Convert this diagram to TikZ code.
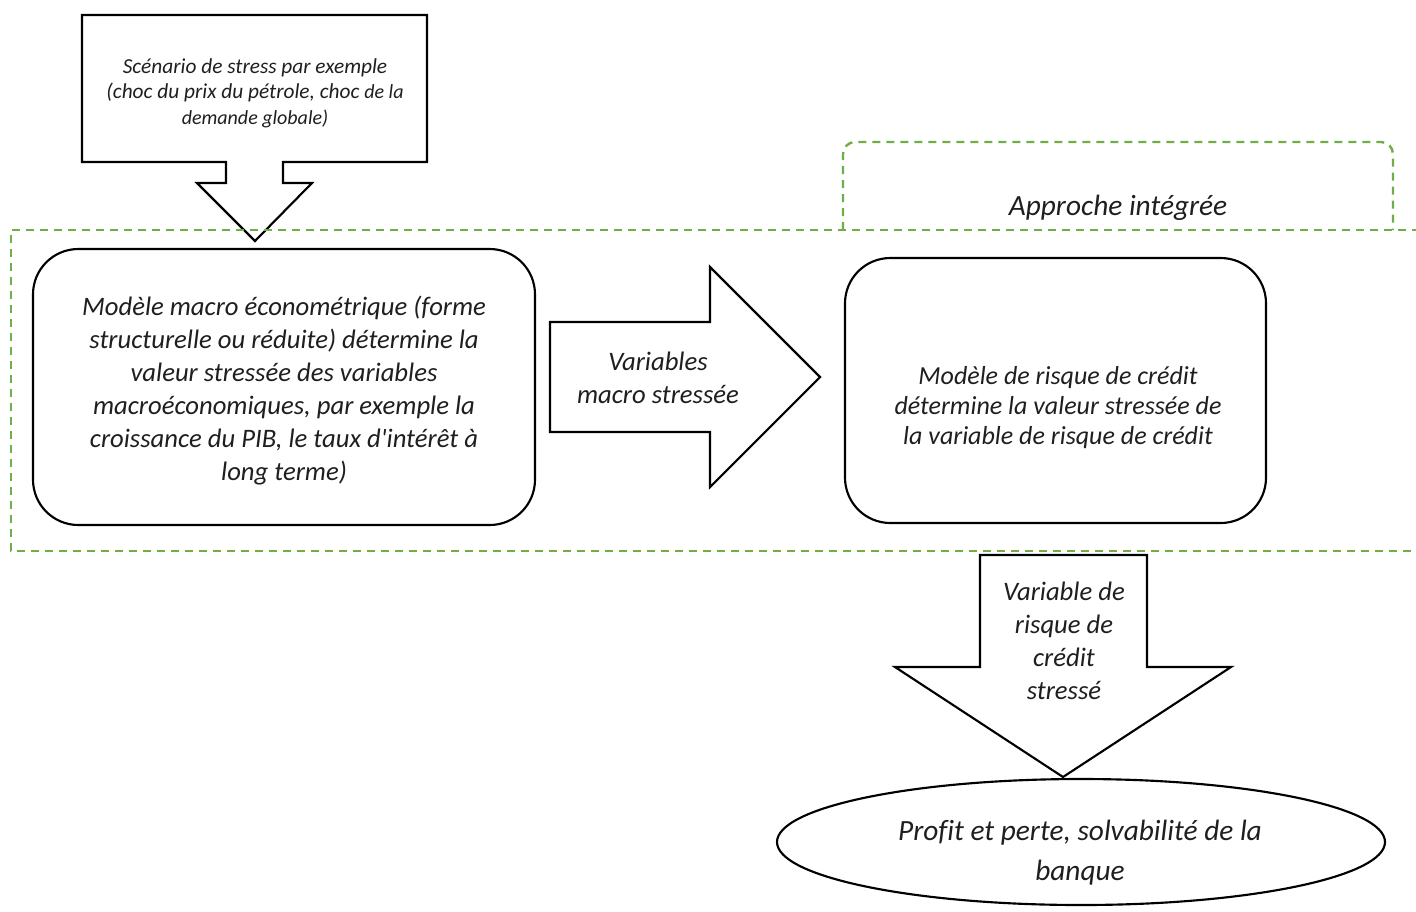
\documentclass[tikz,border=0pt]{standalone}
\usepackage{fontspec}
\setmainfont{Carlito}
\usetikzlibrary{shapes.geometric}
\definecolor{dgreen}{HTML}{70AD47}
\tikzset{
 blk/.style={draw=black, line width=1.6pt, fill=white, line join=miter},
 grn/.style={draw=dgreen, line width=1.8pt, dash pattern=on 6pt off 4.5pt},
 txt/.style={align=center, font=\itshape\fontsize{20}{24.75}\selectfont, text=black!88, inner sep=0pt},
 rbox/.style={blk, rounded corners=34pt},
}
\begin{document}
\begin{tikzpicture}[x=0.75pt,y=-0.75pt]
\useasboundingbox (0,0) rectangle (1416,911);
% scenario callout
\draw[blk] (82,15) -- (427,15) -- (427,162) -- (283,162) -- (283,183) -- (312,183) -- (255,241) -- (197,183) -- (226,183) -- (226,162) -- (82,162) -- cycle;
\node[txt, font=\itshape\fontsize{16}{19}\selectfont] (scen) at (255,93) {Scénario de stress par exemple\\(choc du prix du pétrole, choc {\fontsize{15}{19}\selectfont de la}\\{\fontsize{15}{19}\selectfont demande globale)}};
% green dashed frames
\draw[grn, rounded corners=9pt] (843,230) -- (843,142) -- (1393,142) -- (1393,230);
\draw[grn] (1420,230) -- (11,230) -- (11,551) -- (1420,551);
\node[txt, font=\itshape\fontsize{22}{26}\selectfont] (appr) at (1118,208) {Approche intégrée};
% boxes
\node[rbox, minimum width=376.5pt, minimum height=207pt] (macro) at (284,387) {};
\node[txt] (macrot) at (284,391) {Modèle macro économétrique (forme\\structurelle ou réduite) détermine la\\valeur stressée des variables\\macroéconomiques, par exemple la\\croissance du PIB, le taux d\textquotesingle intérêt à\\long terme)};
\node[rbox, minimum width=315.75pt, minimum height=198.75pt] (credit) at (1055.5,390.5) {};
\node[txt, font=\itshape\fontsize{19.5}{22.5}\selectfont] (creditt) at (1058,408) {Modèle de risque de crédit\\détermine la valeur stressée de\\la variable de risque de crédit};
% right arrow
\draw[blk] (550,322) -- (710,322) -- (710,267) -- (820,377) -- (710,487) -- (710,432) -- (550,432) -- cycle;
\node[txt] (vms) at (658,378) {Variables\\macro stressée};
% down arrow
\draw[blk] (980,555) -- (1147,555) -- (1147,667) -- (1231,667) -- (1063,777) -- (895,667) -- (980,667) -- cycle;
\node[txt] (vrc) at (1064,641) {Variable de\\risque de\\crédit\\stressé};
% ellipse
\node[blk, ellipse, minimum width=456pt, minimum height=94.5pt] (pp) at (1081,842) {};
\node[txt, font=\itshape\fontsize{22}{30}\selectfont\addfontfeatures{Ligatures=NoCommon}] (ppt) at (1080,853) {Profit et perte, solvabilité de la\\banque};
\end{tikzpicture}
\end{document}
